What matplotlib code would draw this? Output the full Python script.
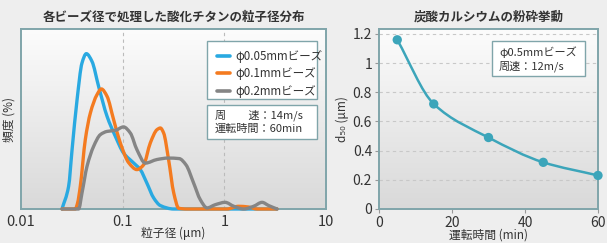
import numpy as np
import matplotlib
matplotlib.use("Agg")
import matplotlib.pyplot as plt
from matplotlib.path import Path
from matplotlib.patches import PathPatch, FancyBboxPatch
from matplotlib.colors import LinearSegmentedColormap

plt.rcParams['font.family'] = ['Noto Sans CJK JP', 'DejaVu Sans']

# ---------------- data ----------------
left_title = "各ビーズ径で処理した酸化チタンの粒子径分布"
right_title = "炭酸カルシウムの粉砕挙動"
series_names = ["φ0.05mmビーズ", "φ0.1mmビーズ", "φ0.2mmビーズ"]

blue_x = [0.0253, 0.0294, 0.0318, 0.0356, 0.0398, 0.0439, 0.0499, 0.0580, 0.0702,
          0.0847, 0.102, 0.128, 0.149, 0.173, 0.202, 0.235, 0.318, 3.30]
blue_y = [0, 1.26, 3.30, 6.07, 8.11, 8.63, 8.20, 6.81, 5.15,
          4.04, 3.11, 2.56, 2.19, 1.44, 0.61, 0.19, 0, 0]

orange_x = [0.0253, 0.0342, 0.0360, 0.0383, 0.0429, 0.0481, 0.0559, 0.0617, 0.0702,
            0.0815, 0.0948, 0.115, 0.138, 0.161, 0.187, 0.218, 0.235, 0.253, 0.283,
            0.318, 0.356, 0.429, 1.06, 1.38, 1.73, 2.10, 3.30]
orange_y = [0, 0, 0.33, 1.26, 3.85, 5.33, 6.35, 6.67, 6.26,
            4.96, 3.67, 2.56, 2.19, 2.46, 3.67, 4.41, 4.50, 4.22, 2.74,
            0.89, 0.04, 0, 0, 0.15, 0.11, 0, 0]

gray_x = [0.0253, 0.0369, 0.0398, 0.0446, 0.0518, 0.0603, 0.0702, 0.0847, 0.102,
          0.119, 0.138, 0.167, 0.218, 0.280, 0.360, 0.420, 0.499, 0.580,
          0.676, 0.815, 1.02, 1.24, 1.55, 1.94, 2.35, 2.73, 3.30]
gray_y = [0, 0, 0.89, 2.37, 3.48, 4.13, 4.31, 4.37, 4.56,
          4.22, 3.30, 2.55, 2.75, 2.83, 2.80, 2.45, 1.44, 0.52,
          0.06, 0.24, 0.37, 0.15, 0, 0.15, 0.37, 0.19, 0]

left_xticks = [0.01, 0.1, 1, 10]
left_xticklabels = ["0.01", "0.1", "1", "10"]

time_min = [5, 15, 30, 45, 60]
d50_um = [1.16, 0.72, 0.49, 0.32, 0.23]
right_xticks = [0, 20, 40, 60]
right_yticks = [0, 0.2, 0.4, 0.6, 0.8, 1, 1.2]
right_yticklabels = ["0", "0.2", "0.4", "0.6", "0.8", "1", "1.2"]

# ---------------- helpers ----------------
def smooth_path(xs, ys, logx=False):
    u = np.log10(np.asarray(xs, float)) if logx else np.asarray(xs, float)
    v = np.asarray(ys, float)
    n = len(u)
    h = np.diff(u)
    d = np.diff(v) / h
    m = np.zeros(n)
    m[0] = d[0]
    m[-1] = d[-1]
    for k in range(1, n - 1):
        if d[k - 1] * d[k] <= 0:
            m[k] = 0
        else:
            w1 = 2 * h[k] + h[k - 1]
            w2 = h[k] + 2 * h[k - 1]
            m[k] = (w1 + w2) / (w1 / d[k - 1] + w2 / d[k])
    verts = [(u[0], v[0])]
    codes = [Path.MOVETO]
    for k in range(n - 1):
        hk = h[k]
        verts += [(u[k] + hk / 3, v[k] + m[k] * hk / 3),
                  (u[k + 1] - hk / 3, v[k + 1] - m[k + 1] * hk / 3),
                  (u[k + 1], v[k + 1])]
        codes += [Path.CURVE4] * 3
    verts = np.array(verts)
    if logx:
        verts[:, 0] = 10 ** verts[:, 0]
    return Path(verts, codes)


def gradient_bg(fig, rect):
    bg = fig.add_axes(rect, zorder=0)
    cmap = LinearSegmentedColormap.from_list("g", ["#fcfcfc", "#d9d9d9"])
    bg.imshow(np.linspace(0, 1, 256).reshape(-1, 1), aspect="auto", cmap=cmap,
              extent=[0, 1, 0, 1])
    bg.set_axis_off()
    return bg

# ---------------- figure ----------------
W, H = 607, 243
fig = plt.figure(figsize=(W / 100, H / 100), dpi=100)
fig.patch.set_facecolor("#eeeeee")

spine_col = "#80a5aa"
text_col = "#333333"

def px_rect(x0, y0, x1, y1):
    return [x0 / W, 1 - y1 / H, (x1 - x0) / W, (y1 - y0) / H]

# ----- left chart -----
lrect = px_rect(21, 29, 326, 209)
gradient_bg(fig, lrect)
ax1 = fig.add_axes(lrect, zorder=1)
ax1.set_facecolor("none")
ax1.set_xscale("log")
ax1.set_xlim(0.01, 10)
ax1.set_ylim(0, 10)
for s in ax1.spines.values():
    s.set_color(spine_col)
    s.set_linewidth(1.4)
ax1.set_yticks([])
ax1.set_xticks(left_xticks)
ax1.set_xticklabels(left_xticklabels)
ax1.xaxis.set_minor_locator(matplotlib.ticker.NullLocator())
ax1.tick_params(axis="x", length=0, labelsize=10.5, colors=text_col, pad=4)
for xv in [0.1, 1]:
    ax1.axvline(xv, color="#bbbbbb", lw=0.8, ls=(0, (3, 3)), zorder=1)

colors = ["#29a9e1", "#f47b20", "#858585"]
for xs, ys, c in [(blue_x, blue_y, colors[0]), (orange_x, orange_y, colors[1]),
                  (gray_x, gray_y, colors[2])]:
    p = smooth_path(xs, ys, logx=True)
    ax1.add_patch(PathPatch(p, facecolor="none", edgecolor=c, lw=2.4,
                            capstyle="round", joinstyle="round", zorder=3,
                            clip_on=False))

ax1.set_xlabel("粒子径 (μm)", fontsize=8.5, color=text_col, labelpad=-1)
ax1.set_ylabel("頻度 (%)", fontsize=8.5, color=text_col, labelpad=4)
fig.text(173.5 / W, 1 - 17 / H, left_title, ha="center", va="center",
         fontsize=9, fontweight="bold", color=text_col)

# legend box
def box(x0, y0, x1, y1):
    r = FancyBboxPatch((x0 / W, 1 - y1 / H), (x1 - x0) / W, (y1 - y0) / H,
                       boxstyle="square,pad=0", transform=fig.transFigure,
                       facecolor="white", edgecolor=spine_col, lw=1.0, zorder=5)
    fig.add_artist(r)

box(207, 41, 317, 99)
for i, (name, c) in enumerate(zip(series_names, colors)):
    yy = 1 - (56 + i * 17.5) / H
    fig.add_artist(plt.Line2D([217 / W, 230 / W], [yy, yy], color=c, lw=2.6,
                              solid_capstyle="round",
                              transform=fig.transFigure, zorder=6))
    fig.text(235 / W, yy, name, ha="left", va="center", fontsize=8.3,
             color=text_col, zorder=6)

box(207, 105, 317, 139)
fig.text(215 / W, 1 - 115.5 / H, "周　　速：14m/s", ha="left", va="center",
         fontsize=8, color=text_col, zorder=6)
fig.text(215 / W, 1 - 129 / H, "運転時間：60min", ha="left", va="center",
         fontsize=8, color=text_col, zorder=6)

# ----- right chart -----
rrect = px_rect(379, 29, 598, 209)
gradient_bg(fig, rrect)
ax2 = fig.add_axes(rrect, zorder=1)
ax2.set_facecolor("none")
ax2.set_xlim(0, 60)
ax2.set_ylim(0, 1.234)
for s in ax2.spines.values():
    s.set_color(spine_col)
    s.set_linewidth(1.4)
ax2.set_xticks(right_xticks)
ax2.set_yticks(right_yticks)
ax2.set_yticklabels(right_yticklabels)
ax2.tick_params(axis="both", length=3, width=0.8, color="#999999",
                labelsize=10, colors=text_col, pad=2)
ax2.tick_params(axis="x", pad=2)
for yv in right_yticks[1:]:
    ax2.axhline(yv, color="#c8c8c8", lw=0.8, ls=(0, (3, 3)), zorder=1)

line_col = "#3ca5ba"
p = smooth_path(time_min, d50_um, logx=False)
ax2.add_patch(PathPatch(p, facecolor="none", edgecolor=line_col, lw=1.8,
                        capstyle="round", joinstyle="round", zorder=3))
ax2.scatter(time_min, d50_um, s=45, color=line_col, zorder=4, clip_on=False,
            edgecolors="none")

ax2.set_xlabel("運転時間 (min)", fontsize=8.5, color=text_col, labelpad=-1)
ax2.set_ylabel("d₅₀ (μm)", fontsize=8.5, color=text_col, labelpad=3)
fig.text(488.5 / W, 1 - 17 / H, right_title, ha="center", va="center",
         fontsize=9, fontweight="bold", color=text_col)

box(492, 41, 585, 76)
fig.text(499 / W, 1 - 52 / H, "φ0.5mmビーズ", ha="left", va="center",
         fontsize=8, color=text_col, zorder=6)
fig.text(499 / W, 1 - 66 / H, "周速：12m/s", ha="left", va="center",
         fontsize=8, color=text_col, zorder=6)

fig.savefig("out.png", dpi=100, facecolor=fig.get_facecolor())
